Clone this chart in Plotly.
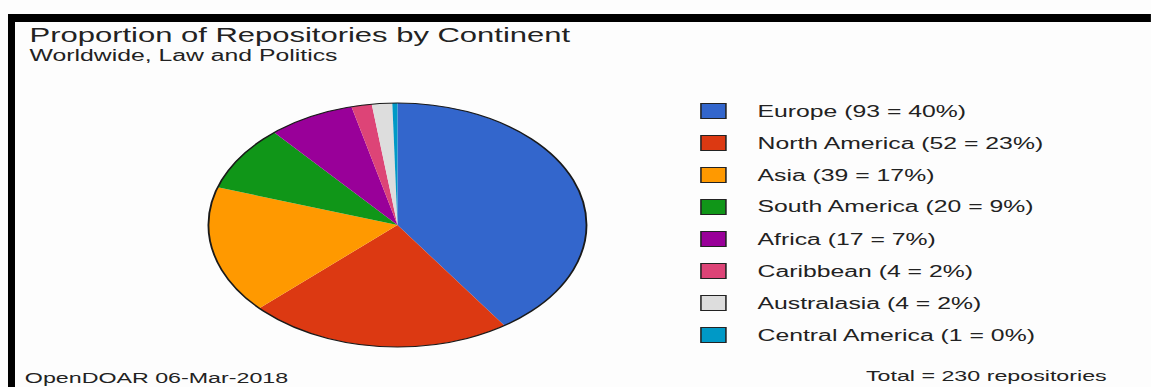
import plotly.graph_objects as go

# Repositories by continent (OpenDOAR, Law and Politics)
continents = ["Europe", "North America", "Asia", "South America",
              "Africa", "Caribbean", "Australasia", "Central America"]
counts = [93, 52, 39, 20, 17, 4, 4, 1]
slice_colors = ["#3366CC", "#DC3912", "#FF9900", "#109618",
                "#990099", "#DD4477", "#DDDDDD", "#0099C6"]

title_text = "Proportion of Repositories by Continent"
subtitle_text = "Worldwide, Law and Politics"
source_text = "OpenDOAR 06-Mar-2018"

total = sum(counts)
legend_labels = [f"{c} ({n} = {round(100 * n / total)}%)" for c, n in zip(continents, counts)]

# Page geometry: the chart is laid out narrow and stretched sideways in the page
PAGE_W, PAGE_H = 1151, 387
STRETCH = 1.549
FIG_W = round(PAGE_W / STRETCH)

def px(x):
    return x / PAGE_W

def py(y):
    return 1 - y / PAGE_H

FONT = "Liberation Sans, Arial, sans-serif"
TXT = "#222222"

pie_domain = dict(x=[px(208), px(587)], y=[py(347), py(103)])

fig = go.Figure()
fig.add_trace(go.Pie(
    labels=continents, values=counts, sort=False, direction="clockwise",
    rotation=0, domain=pie_domain, textinfo="none",
    marker=dict(colors=slice_colors, line=dict(width=0)),
    hoverinfo="label+value+percent", showlegend=False,
))
# dark rim around the pie
fig.add_trace(go.Pie(
    labels=["Total"], values=[total], sort=False, domain=pie_domain,
    textinfo="none", hoverinfo="skip", showlegend=False,
    marker=dict(colors=["rgba(0,0,0,0)"], line=dict(color="#1a1a1a", width=1.2)),
))

annotations = [
    dict(text=title_text, x=px(27), y=py(35), xanchor="left", yanchor="middle",
         font=dict(size=20, color=TXT)),
    dict(text=subtitle_text, x=px(27), y=py(55), xanchor="left", yanchor="middle",
         font=dict(size=16, color=TXT)),
    dict(text=source_text, x=px(22), y=py(377), xanchor="left", yanchor="middle",
         font=dict(size=15, color=TXT)),
    dict(text=f"Total = {total} repositories", x=px(1110), y=py(375),
         xanchor="right", yanchor="middle", font=dict(size=15, color=TXT)),
]

shapes = [
    # frame bars along the top and left edges
    dict(type="rect", xref="paper", yref="paper", x0=px(8), x1=1, y0=py(22), y1=py(14),
         fillcolor="#000000", line=dict(width=0), layer="above"),
    dict(type="rect", xref="paper", yref="paper", x0=px(8), x1=px(15), y0=0, y1=py(14),
         fillcolor="#000000", line=dict(width=0), layer="above"),
]

row0, row_gap = 111, 32
for i, (lab, col) in enumerate(zip(legend_labels, slice_colors)):
    yc = row0 + i * row_gap
    shapes.append(dict(type="rect", xref="paper", yref="paper",
                       x0=px(701), x1=px(726), y0=py(yc + 7.5), y1=py(yc - 7.5),
                       fillcolor=col, line=dict(color="#222222", width=1)))
    annotations.append(dict(text=lab, x=px(755), y=py(yc), xanchor="left",
                            yanchor="middle", font=dict(size=16, color=TXT)))

for a in annotations:
    a.update(xref="paper", yref="paper", showarrow=False)

fig.update_layout(
    width=FIG_W, height=PAGE_H, autosize=False,
    margin=dict(l=0, r=0, t=0, b=0),
    paper_bgcolor="#FDFDFD", plot_bgcolor="#FDFDFD",
    font=dict(family=FONT, color=TXT),
    showlegend=False,
    annotations=annotations, shapes=shapes,
)

stretch_js = (
    "var gd = document.getElementById('{plot_id}');"
    "gd.style.transformOrigin = '0 0';"
    f"gd.style.transform = 'scaleX({STRETCH})';"
    "document.body.style.margin = '0';"
    "document.body.style.background = '#FDFDFD';"
    "document.body.style.overflow = 'hidden';"
)

fig.write_html("out.html", post_script=stretch_js, config={"displayModeBar": False})
